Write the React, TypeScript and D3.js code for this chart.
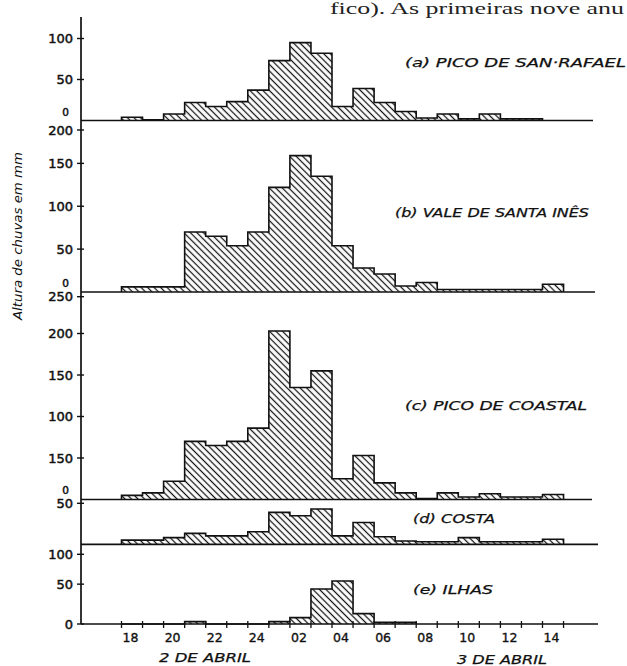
import React from "react";
import * as d3 from "d3";

// hourly bins, 18h on 2 April to 14h on 3 April
const hourBins = ["18", "19", "20", "21", "22", "23", "24", "01", "02", "03", "04", "05", "06", "07", "08", "09", "10", "11", "12", "13", "14"];
const hourTicks = ["18", "20", "22", "24", "02", "04", "06", "08", "10", "12", "14"];
const dayLabels = ["2 DE ABRIL", "3 DE ABRIL"];

// rainfall per hour, mm
const picoSanRafael = [4, 1, 8, 22, 17, 23, 37, 73, 95, 82, 17, 39, 22, 11, 3, 8, 2, 8, 2, 2];
const valeSantaInes = [6, 6, 6, 70, 65, 54, 70, 122, 159, 135, 54, 28, 21, 7, 11, 3, 3, 3, 3, 3, 9];
const picoCoastal = [5, 8, 22, 70, 65, 70, 86, 203, 135, 155, 25, 53, 20, 8, 1, 8, 3, 7, 3, 3, 6];
const costa = [5, 5, 8, 13, 10, 10, 15, 38, 34, 42, 10, 26, 9, 4, 3, 3, 8, 3, 3, 3, 6];
const ilhas = [0, 0, 0, 3, 0, 0, 0, 3, 8, 44, 54, 13, 2, 2];

const panelTitles = ["(a) PICO DE SAN·RAFAEL", "(b) VALE DE SANTA INÊS", "(c) PICO DE COASTAL", "(d) COSTA", "(e) ILHAS"];

const ticksA = [0, 50, 100];
const ticksB = [0, 50, 100, 150, 200];
const ticksC = [0, 50, 100, 150, 200, 250];
const ticksD = [50];
const ticksE = [0, 50, 100];
const tickLabelsC = ["0", "150", "100", "150", "200", "250"]; // as printed

const yTitle = "Altura de chuvas em mm";
const pageText = "fico). As primeiras nove anu";

const axisX = 81;
const font = "'DejaVu Sans', sans-serif";

export default function App() {
  const x = d3.scaleLinear().domain([0, 22]).range([121.5, 121.5 + 21.05 * 22]);

  const panels = [
    { values: picoSanRafael, ticks: ticksA, labels: ticksA.map(String), title: panelTitles[0],
      y: d3.scaleLinear().domain([0, 100]).range([120.5, 38.5]),
      topShift: 0, zeroShift: -9, tx: 405, ty: 63, tw: 221, lineEnd: 593 },
    { values: valeSantaInes, ticks: ticksB, labels: ticksB.map(String), title: panelTitles[1],
      y: d3.scaleLinear().domain([0, 200]).range([292, 120.5]),
      topShift: 9.5, zeroShift: -8.7, tx: 395, ty: 213, tw: 194, lineEnd: 595 },
    { values: picoCoastal, ticks: ticksC, labels: tickLabelsC, title: panelTitles[2],
      y: d3.scaleLinear().domain([0, 250]).range([499.5, 292]),
      topShift: 4.7, zeroShift: -9.5, tx: 405, ty: 406, tw: 182, lineEnd: 592 },
    { values: costa, ticks: ticksD, labels: ticksD.map(String), title: panelTitles[3],
      y: d3.scaleLinear().domain([0, 50]).range([544.3, 502.3]),
      topShift: 1, zeroShift: 0, tx: 413, ty: 519, tw: 82, lineEnd: 598 },
    { values: ilhas, ticks: ticksE, labels: ticksE.map(String), title: panelTitles[4],
      y: d3.scaleLinear().domain([0, 100]).range([624, 544.3]),
      topShift: 10, zeroShift: 0, tx: 413, ty: 590, tw: 80, lineEnd: 598 },
  ];

  const bottom = panels[4].y(0);

  return (
    <svg width={627} height={666} style={{ position: "fixed", left: 0, top: 0, background: "#fff" }}>
      <defs>
        <pattern id="hatch" patternUnits="userSpaceOnUse" width={4.6} height={4.6} patternTransform="rotate(45)">
          <line x1={-1} y1={2.3} x2={6} y2={2.3} stroke="#111" strokeWidth={1.25} />
        </pattern>
      </defs>

      <text x={330} y={14} fontFamily="'Liberation Serif', serif" fontSize={16} fill="#222"
        textLength={294} lengthAdjust="spacingAndGlyphs">{pageText}</text>

      {panels.map((p, k) => {
        const n = p.values.length;
        const pts: [number, number][] = p.values.map((v, i) => [i, v] as [number, number]);
        pts.push([n, p.values[n - 1]]);
        const area = d3.area<[number, number]>()
          .x(d => x(d[0]))
          .y0(p.y(0))
          .y1(d => p.y(d[1]))
          .curve(d3.curveStepAfter);
        const outline = d3.line<[number, number]>()
          .x(d => x(d[0]))
          .y(d => p.y(d[1]))
          .curve(d3.curveStepAfter);
        const top = p.y.domain()[1];
        return (
          <g key={k}>
            <path d={area(pts) || ""} fill="url(#hatch)" />
            <path d={outline([[0, 0], ...pts, [n, 0]]) || ""} fill="none" stroke="#111" strokeWidth={1.6} />
            <line x1={axisX} x2={p.lineEnd} y1={p.y(0)} y2={p.y(0)} stroke="#111" strokeWidth={1.7} />
            {p.ticks.map((v, i) => {
              const shifted = v === 0 && p.zeroShift !== 0;
              const dy = v === top ? p.topShift : v === 0 ? p.zeroShift : 0;
              const yy = p.y(v) + dy;
              return (
                <g key={i}>
                  {!shifted && <line x1={axisX - 4} x2={axisX + 3} y1={yy} y2={yy} stroke="#111" strokeWidth={1.4} />}
                  <text x={shifted ? 69 : 73} y={yy} textAnchor="end" dominantBaseline="central"
                    fontFamily={font} fontSize={shifted ? 10.5 : 13} fill="#111" stroke="#111" strokeWidth={0.5}>
                    {p.labels[i]}
                  </text>
                </g>
              );
            })}
            <text x={p.tx} y={p.ty} dominantBaseline="central" fontFamily={font} fontStyle="italic"
              fontSize={11.5} fill="#111" stroke="#111" strokeWidth={0.25}
              textLength={p.tw} lengthAdjust="spacingAndGlyphs">{p.title}</text>
          </g>
        );
      })}

      <line x1={axisX} x2={axisX} y1={17} y2={bottom} stroke="#111" strokeWidth={1.7} />

      {d3.range(hourBins.length + 1).map(i => (
        <line key={i} x1={x(i)} x2={x(i)} y1={bottom - 3} y2={bottom + 4} stroke="#111" strokeWidth={1.3} />
      ))}
      {hourTicks.map((t, i) => (
        <text key={t} x={x(i * 2) + 9} y={637} textAnchor="middle" dominantBaseline="central"
          fontFamily={font} fontSize={12.5} fill="#111" stroke="#111" strokeWidth={0.35}>{t}</text>
      ))}
      <text x={205} y={658} textAnchor="middle" dominantBaseline="central" fontFamily={font}
        fontStyle="italic" fontSize={11.5} fill="#111" stroke="#111" strokeWidth={0.25}
        textLength={92} lengthAdjust="spacingAndGlyphs">{dayLabels[0]}</text>
      <text x={502} y={660} textAnchor="middle" dominantBaseline="central" fontFamily={font}
        fontStyle="italic" fontSize={11.5} fill="#111" stroke="#111" strokeWidth={0.25}
        textLength={90} lengthAdjust="spacingAndGlyphs">{dayLabels[1]}</text>

      <text transform="translate(17,236) rotate(-90)" textAnchor="middle" dominantBaseline="central"
        fontFamily={font} fontStyle="italic" fontSize={13} fill="#111"
        textLength={168} lengthAdjust="spacingAndGlyphs">{yTitle}</text>
    </svg>
  );
}
